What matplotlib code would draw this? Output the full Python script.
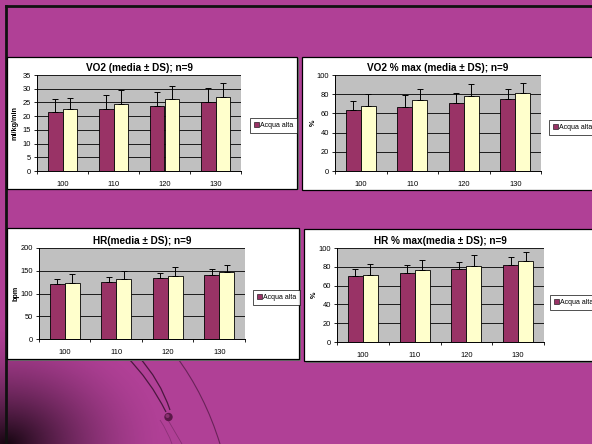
import numpy as np
import matplotlib
matplotlib.use("Agg")
import matplotlib.pyplot as plt
from matplotlib.patches import Rectangle, Circle, PathPatch, Patch
from matplotlib.path import Path

plt.rcParams['font.family'] = ['Liberation Sans', 'DejaVu Sans']

# ---- data -------------------------------------------------------------
categories = ["100", "110", "120", "130"]
series_name = "Acqua alta"

vo2_mean_a = [21.4, 22.5, 23.7, 25.0]
vo2_sd_a = [4.7, 5.2, 5.1, 5.1]
vo2_mean_b = [22.7, 24.6, 26.1, 27.1]
vo2_sd_b = [4.0, 4.9, 4.9, 4.9]

vo2pct_mean_a = [63.5, 67.0, 70.5, 74.6]
vo2pct_sd_a = [9.8, 11.8, 11.2, 11.1]
vo2pct_mean_b = [67.6, 73.5, 77.7, 80.8]
vo2pct_sd_b = [12.2, 12.2, 13.2, 11.2]

hr_mean_a = [120.5, 126.0, 133.0, 140.0]
hr_sd_a = [11.0, 11.0, 11.0, 13.0]
hr_mean_b = [122.0, 131.0, 139.0, 147.0]
hr_sd_b = [21.0, 18.0, 19.0, 16.0]

hrpct_mean_a = [70.5, 73.8, 77.5, 82.0]
hrpct_sd_a = [7.5, 8.3, 7.5, 8.0]
hrpct_mean_b = [71.0, 76.7, 81.0, 86.0]
hrpct_sd_b = [12.3, 10.8, 11.8, 10.0]

W, H = 592, 444
MAGENTA = "#B04096"
MAROON = "#993366"
CREAM = "#FFFFCC"
PLOT_GRAY = "#C0C0C0"

fig = plt.figure(figsize=(W / 100, H / 100), dpi=100)
fig.patch.set_facecolor(MAGENTA)

# ---- slide background in pixel coordinates ----------------------------
bg = fig.add_axes([0, 0, 1, 1], zorder=0)
bg.set_xlim(0, W)
bg.set_ylim(H, 0)
bg.axis("off")
bg.add_patch(Rectangle((0, 0), W, H, facecolor=MAGENTA, edgecolor="none"))

# dark shading in the lower-left corner
yy, xx = np.mgrid[0:H, 0:W]
d = np.hypot((xx - 6) * 0.85, (yy - 444) * 1.1)
alpha = np.clip(1 - d / 135.0, 0, 1) ** 1.6
shade = np.zeros((H, W, 4))
shade[..., 0] = 0.08
shade[..., 1] = 0.02
shade[..., 2] = 0.06
shade[..., 3] = alpha
bg.imshow(shade, extent=(0, W, H, 0), interpolation="bilinear", zorder=1)


def curve(p0, p1, p2, lw, a):
    path = Path([p0, p1, p2], [Path.MOVETO, Path.CURVE3, Path.CURVE3])
    bg.add_patch(PathPatch(path, facecolor="none", edgecolor="#3a1030",
                           lw=lw, alpha=a, zorder=2))


curve((126, 356), (150, 380), (166, 412), 0.9, 0.85)
curve((138, 356), (160, 380), (170, 410), 0.9, 0.85)
curve((176, 356), (205, 395), (220, 444), 0.8, 0.6)
curve((168, 420), (175, 432), (182, 444), 0.6, 0.35)
curve((160, 420), (168, 432), (172, 444), 0.6, 0.3)
bg.add_patch(Circle((168.5, 417), 4.2, facecolor="#5a1848", edgecolor="none", zorder=3))
bg.add_patch(Circle((167.5, 416), 2.0, facecolor="#8a3070", edgecolor="none", zorder=3))

# slide frame lines
bg.plot([6, W], [6, 6], color="#111111", lw=2.0, zorder=4)
bg.plot([6, 6], [6, H], color="#111111", lw=2.0, zorder=4)

# chart boxes (x0, y0, x1, y1) in pixels
boxes = [(7, 57, 297, 189), (302, 57, 596, 190),
         (7, 228, 299, 359), (304, 229, 596, 361)]
for (x0, y0, x1, y1) in boxes:
    bg.add_patch(Rectangle((x0 + 1.5, y0 + 1.5), x1 - x0, y1 - y0,
                           facecolor="#707070", edgecolor="none", zorder=4))
    bg.add_patch(Rectangle((x0, y0), x1 - x0, y1 - y0, facecolor="white",
                           edgecolor="black", lw=0.9, zorder=5))


def fig_rect(x0, y0, x1, y1):
    return [x0 / W, 1 - y1 / H, (x1 - x0) / W, (y1 - y0) / H]


def draw_chart(rect, title, mean_a, sd_a, mean_b, sd_b, ymax, ystep,
               ylabel, ylabel_x, legend_xy):
    ax = fig.add_axes(fig_rect(*rect), zorder=10)
    ax.set_facecolor(PLOT_GRAY)
    x = np.arange(len(categories))
    bw = 0.29
    ekw = dict(ecolor="black", elinewidth=0.7, capsize=2.2, capthick=0.7)
    zeros = np.zeros(len(categories))
    ax.bar(x - bw / 2, mean_a, bw, color=MAROON, edgecolor="black",
           linewidth=0.6, yerr=[zeros, sd_a], error_kw=ekw, zorder=3)
    ax.bar(x + bw / 2, mean_b, bw, color=CREAM, edgecolor="black",
           linewidth=0.6, yerr=[zeros, sd_b], error_kw=ekw, zorder=3)
    ax.set_xlim(-0.5, len(categories) - 0.5)
    ax.set_ylim(0, ymax)
    ax.set_yticks(np.arange(0, ymax + ystep / 2, ystep))
    ax.yaxis.grid(True, color="black", lw=0.6, zorder=1)
    ax.set_axisbelow(True)
    ax.set_xticks(x)
    ax.set_xticklabels(categories)
    ax.set_xticks(np.arange(-0.5, len(categories)), minor=True)
    ax.tick_params(axis="x", which="major", length=0, pad=7, labelsize=5.4)
    ax.tick_params(axis="x", which="minor", length=2.5, width=0.6,
                   direction="out")
    ax.tick_params(axis="y", length=2.5, width=0.6, direction="out",
                   pad=2, labelsize=5.4)
    for s in ("top", "right"):
        ax.spines[s].set_visible(False)
    for s in ("left", "bottom"):
        ax.spines[s].set_linewidth(0.7)
    ax.set_title(title, fontsize=7.2, fontweight="bold", pad=3)
    # axis label placed in figure pixels, just left of the tick labels
    fig.text(ylabel_x / W, 1 - ((rect[1] + rect[3]) / 2) / H, ylabel,
             rotation=90, ha="center", va="center", fontsize=5.2,
             fontweight="bold", zorder=12)
    lx, ly = legend_xy
    handle = Patch(facecolor=MAROON, edgecolor="black", linewidth=0.4)
    leg = fig.legend(handles=[handle], labels=[series_name],
                     loc="upper left", bbox_to_anchor=(lx / W, 1 - ly / H),
                     fontsize=5.0, frameon=True, fancybox=False,
                     handlelength=0.7, handleheight=0.7, handletextpad=0.2,
                     borderpad=0.55, borderaxespad=0)
    leg.get_frame().set_edgecolor("black")
    leg.get_frame().set_linewidth(0.6)
    leg.set_zorder(11)
    return ax


draw_chart((37, 75, 241, 171), "VO2 (media ± DS); n=9",
           vo2_mean_a, vo2_sd_a, vo2_mean_b, vo2_sd_b, 35, 5,
           "ml/kg/min", 15, (250, 118))
draw_chart((335, 75, 541, 171), "VO2 % max (media ± DS); n=9",
           vo2pct_mean_a, vo2pct_sd_a, vo2pct_mean_b, vo2pct_sd_b, 100, 20,
           "%", 313, (549, 120))
draw_chart((39, 248, 245, 339), "HR(media ± DS); n=9",
           hr_mean_a, hr_sd_a, hr_mean_b, hr_sd_b, 200, 50,
           "bpm", 16, (253, 290))
draw_chart((337, 248, 544, 342), "HR % max(media ± DS); n=9",
           hrpct_mean_a, hrpct_sd_a, hrpct_mean_b, hrpct_sd_b, 100, 20,
           "%", 314, (550, 295))

fig.savefig("out.png", dpi=100, facecolor=fig.get_facecolor())
